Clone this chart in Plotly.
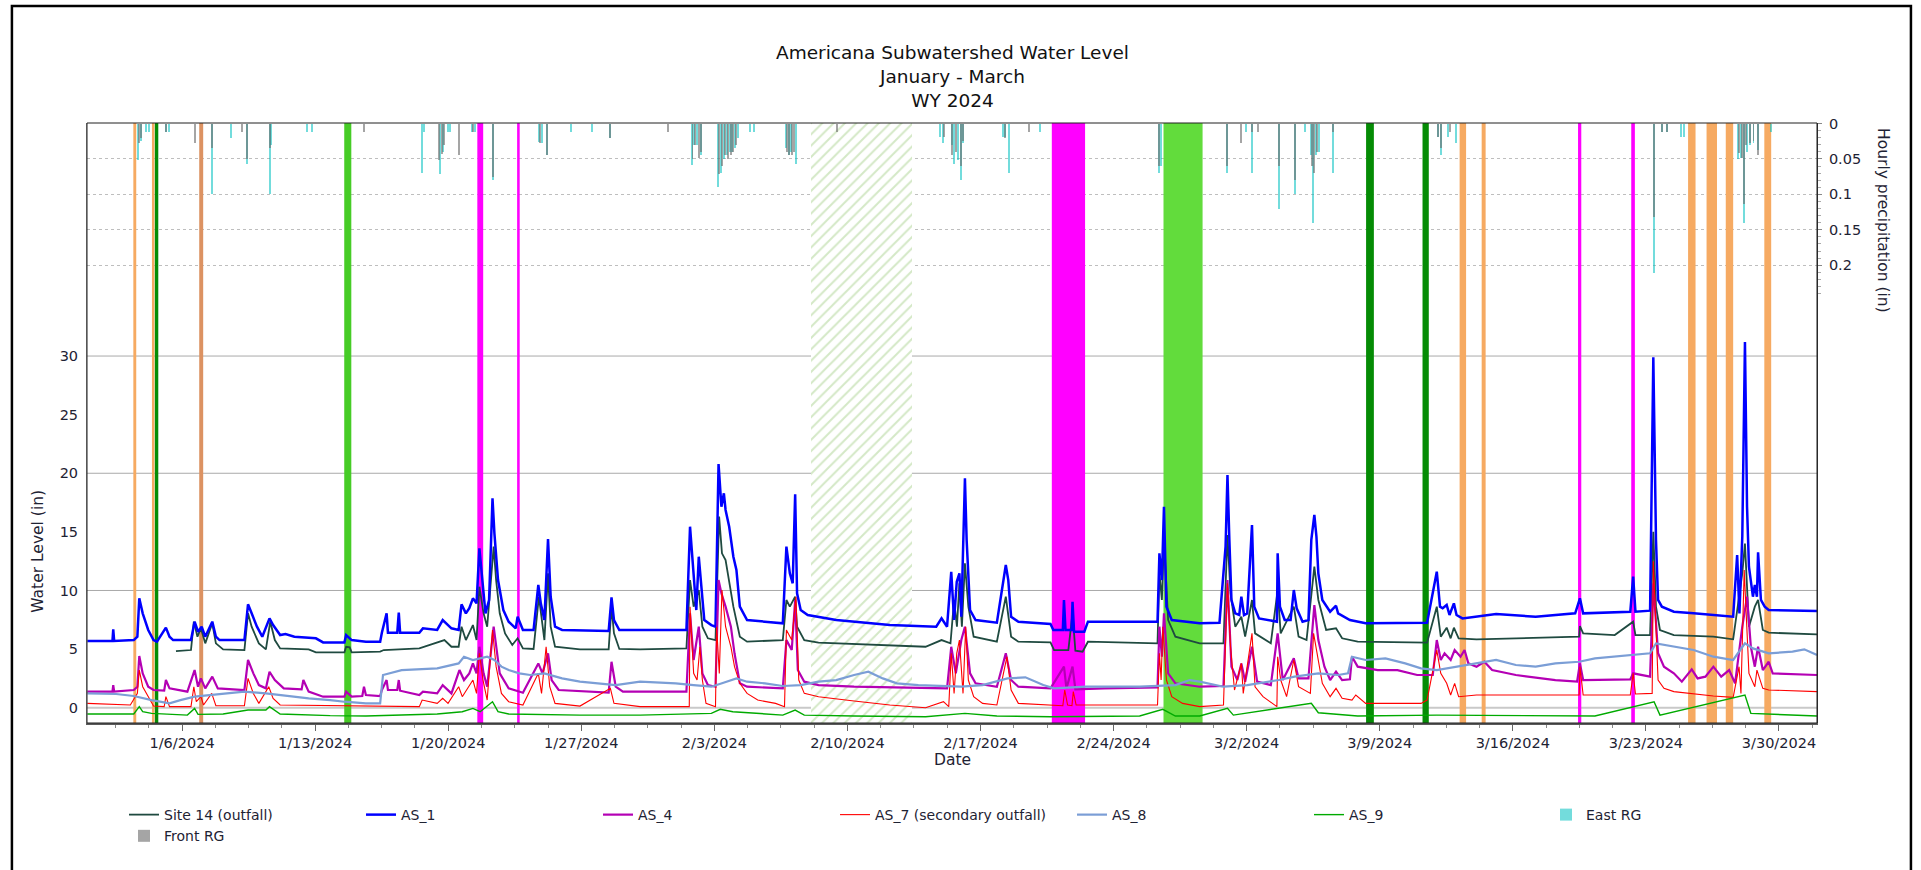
import pandas as pd
import plotly.graph_objects as go

BASE = pd.Timestamp("2024-01-01")

# ---------------- water level series (day offset since 2024-01-01, inches) ----------------
site14_day = [4.68, 5.47, 5.62, 5.81, 5.99, 6.22, 6.59, 6.78, 7.16, 8.28, 8.47, 8.66, 9.04, 9.41, 9.64, 9.88, 10.16, 11.66, 12.04, 13.54, 13.63, 13.82, 13.92, 15.42, 15.61, 17.48, 18.80, 19.17, 19.55, 19.70, 19.93, 20.30, 20.49, 20.64, 20.86, 21.05, 21.39, 21.52, 21.71, 21.99, 22.37, 22.65, 22.93, 23.49, 23.77, 23.96, 24.06, 24.25, 24.39, 24.62, 25.93, 27.44, 27.59, 27.72, 28.00,
              29.09, 31.53, 31.72, 31.91, 32.18, 32.37, 32.66, 33.06, 33.25, 33.40, 33.59, 33.78, 34.00, 34.34, 34.72, 36.60, 36.79, 36.97, 37.25, 37.35, 37.73, 38.48, 40.35, 42.23, 44.11, 44.95, 45.42, 45.61, 45.76, 45.89, 46.02, 46.18, 46.36, 46.64, 47.86, 48.33, 48.61, 48.99, 50.68, 50.87, 51.62, 51.84, 51.99, 52.37, 52.65, 56.31, 56.41, 56.54, 56.65, 56.87, 57.25, 58.53,
              59.78, 59.99, 60.15, 60.40, 60.72, 60.92, 61.28, 61.44, 62.27, 62.63, 62.79, 63.48, 63.73, 64.15, 64.46, 64.56, 64.77, 65.18, 65.70, 66.02, 66.84, 70.49, 71.00, 71.21, 71.52, 71.73, 71.90, 72.15, 73.09, 77.24, 78.49, 78.53, 78.70, 80.36, 81.33, 81.45, 82.22, 82.39, 82.53, 82.74, 83.47, 85.55, 86.59, 87.07, 87.21, 87.42, 87.73, 87.90, 88.15, 88.46, 91.00]
site14_val = [4.83, 4.92, 7.34, 6.06, 6.77, 5.49, 7.20, 5.49, 4.98, 4.92, 8.05, 6.91, 5.49, 4.98, 7.34, 5.77, 5.06, 4.98, 4.72, 4.72, 5.20, 5.15, 4.72, 4.78, 4.92, 5.06, 5.77, 5.20, 5.20, 6.91, 5.77, 7.05, 5.77, 10.32, 8.05, 6.91, 13.74, 10.89, 8.05, 6.34, 5.35, 5.92, 5.06, 5.01, 9.47, 6.91, 5.77, 11.46, 6.91, 5.20, 4.98, 4.98, 8.62, 6.34, 5.01,
              4.98, 5.06, 10.89, 8.62, 10.04, 6.91, 5.92, 5.77, 16.30, 13.17, 12.60, 10.89, 8.62, 6.06, 5.63, 5.77, 9.19, 8.62, 9.47, 6.91, 5.77, 5.55, 5.43, 5.29, 5.20, 5.77, 5.49, 9.19, 6.91, 10.61, 6.91, 12.32, 8.62, 6.06, 5.63, 9.47, 6.06, 5.63, 5.57, 4.92, 4.92, 8.05, 4.86, 4.78, 5.63, 5.49, 11.46, 9.19, 14.31, 7.48, 6.06, 5.49,
              5.49, 14.73, 9.76, 6.91, 7.76, 6.06, 9.19, 6.34, 5.49, 10.04, 6.34, 8.62, 6.06, 5.77, 10.32, 12.03, 9.19, 6.63, 6.77, 5.92, 5.63, 5.55, 8.62, 6.06, 6.83, 5.92, 6.83, 5.92, 5.83, 6.00, 6.06, 6.97, 6.34, 6.20, 7.34, 6.20, 6.20, 15.0, 8.62, 6.63, 6.20, 6.06, 5.83, 11.46, 14.0, 6.91, 8.62, 9.19, 6.63, 6.40, 6.26]

as1_day = [0.02, 1.34, 1.38, 1.43, 2.46, 2.65, 2.75, 2.93, 3.22, 3.50, 3.68, 4.15, 4.34, 4.53, 5.47, 5.66, 5.84, 6.03, 6.22, 6.59, 6.78, 6.97, 8.28, 8.47, 8.66, 8.94, 9.22, 9.60, 9.79, 10.16, 10.44, 10.91, 12.04, 12.42, 13.54, 13.63, 13.92, 14.67, 15.42, 15.51, 15.76, 15.83, 16.32, 16.40, 16.47, 17.48, 17.67, 18.42, 18.71, 19.17, 19.55, 19.70, 19.93, 20.11, 20.30, 20.49, 20.64, 20.77, 20.96, 21.15, 21.33, 21.43, 21.62, 21.90, 22.18, 22.55, 22.65, 22.93, 23.49, 23.74, 23.87, 24.06, 24.25, 24.39, 24.62, 24.99, 27.44, 27.59, 27.72, 28.00,
           29.09, 31.53, 31.72, 31.91, 32.05, 32.18, 32.32, 32.47, 32.84, 33.06, 33.22, 33.37, 33.50, 33.59, 33.78, 34.00, 34.16, 34.34, 34.72, 36.60, 36.79, 36.97, 37.12, 37.25, 37.35, 37.54, 37.91, 39.41, 42.23, 44.67, 44.95, 45.24, 45.46, 45.61, 45.75, 45.89, 45.99, 46.18, 46.27, 46.45, 46.74, 47.86, 48.33, 48.46, 48.61, 48.99, 50.68, 50.83, 51.33, 51.39, 51.47, 51.79, 51.84, 51.92, 52.46, 52.65, 56.31, 56.41, 56.54, 56.65, 56.78, 57.06, 58.53,
           59.57, 59.89, 59.99, 60.09, 60.20, 60.40, 60.61, 60.72, 60.86, 61.03, 61.28, 61.40, 61.65, 62.59, 62.63, 62.75, 63.00, 63.31, 63.48, 63.63, 63.94, 64.25, 64.40, 64.56, 64.67, 64.77, 64.98, 65.39, 65.70, 65.81, 66.43, 67.26, 70.49, 71.00, 71.17, 71.31, 71.52, 71.67, 71.90, 72.04, 72.35, 74.12, 76.20, 78.28, 78.53, 78.70, 81.18, 81.33, 81.45, 82.22, 82.39, 82.53, 82.64, 82.84, 83.47, 84.51, 86.59, 86.80, 86.92, 87.07, 87.21, 87.32, 87.42, 87.63, 87.73, 87.84, 87.90, 88.05, 88.25, 88.46, 91.00]
as1_val = [5.69, 5.69, 6.68, 5.69, 5.77, 6.06, 9.33, 8.05, 6.63, 5.77, 5.63, 6.83, 6.06, 5.77, 5.77, 7.34, 6.48, 6.91, 6.06, 7.34, 6.06, 5.77, 5.77, 8.82, 8.05, 6.91, 6.06, 7.62, 7.05, 6.20, 6.29, 6.06, 5.92, 5.57, 5.57, 6.20, 5.77, 5.63, 5.63, 6.40, 8.05, 6.40, 6.40, 8.11, 6.40, 6.40, 6.77, 6.63, 7.48, 6.77, 6.63, 8.82, 8.05, 8.48, 9.33, 8.90, 13.60, 11.18, 8.05, 9.19, 17.86, 14.87, 10.89, 8.33, 7.34, 6.77, 7.76, 6.63, 6.63, 10.47, 8.90, 7.48, 14.39, 9.47, 6.91, 6.63, 6.54, 9.41, 7.48, 6.63,
           6.63, 6.63, 15.44, 11.46, 8.33, 12.88, 10.04, 7.48, 7.05, 6.91, 20.79, 17.15, 18.29, 16.87, 15.44, 12.88, 11.75, 8.62, 7.48, 7.20, 13.74, 11.46, 10.61, 18.20, 9.76, 8.33, 7.91, 7.48, 7.05, 6.91, 7.62, 6.91, 11.60, 7.48, 10.75, 11.46, 7.76, 19.57, 14.31, 8.33, 7.48, 7.25, 12.17, 10.89, 7.76, 7.34, 7.14, 6.63, 6.63, 9.19, 6.63, 6.63, 9.04, 6.48, 6.48, 7.34, 7.34, 13.17, 10.89, 17.15, 8.62, 7.48, 7.20,
           7.25, 13.74, 19.85, 14.31, 9.19, 8.05, 7.91, 9.47, 7.91, 8.05, 15.59, 8.62, 7.62, 7.34, 13.17, 8.62, 7.48, 7.48, 10.04, 8.48, 7.34, 7.48, 14.31, 16.44, 14.59, 11.46, 9.19, 8.19, 8.70, 8.05, 7.48, 7.20, 7.25, 11.60, 8.62, 8.48, 8.76, 7.91, 8.90, 7.91, 7.62, 7.99, 7.76, 8.05, 9.33, 8.05, 8.19, 11.18, 8.19, 8.28, 29.9, 14.31, 9.19, 8.62, 8.19, 8.05, 7.76, 13.03, 8.05, 14.59, 31.2, 17.15, 12.03, 9.47, 10.47, 9.47, 13.25, 9.19, 8.62, 8.33, 8.25]

as4_day = [0.02, 1.34, 1.38, 1.43, 2.46, 2.65, 2.75, 2.93, 3.22, 3.50, 4.06, 4.15, 4.34, 5.28, 5.66, 5.84, 5.99, 6.22, 6.59, 6.88, 8.28, 8.47, 8.75, 9.04, 9.41, 9.60, 9.88, 10.35, 11.29, 11.38, 11.66, 12.42, 13.54, 13.63, 13.92, 14.48, 14.57, 14.67, 15.42, 15.51, 15.76, 15.83, 16.32, 16.40, 16.47, 17.48, 17.67, 18.42, 18.71, 19.17, 19.59, 19.83, 20.11, 20.30, 20.49, 20.64, 20.86, 21.05, 21.39, 21.52, 21.71, 22.18, 22.93, 23.74, 23.96, 24.25, 24.44, 24.81, 27.44, 27.59, 27.81, 28.19,
           29.09, 31.53, 31.72, 31.91, 32.18, 32.37, 32.66, 33.06, 33.22, 33.37, 33.59, 33.87, 34.06, 34.34, 34.72, 36.60, 36.79, 37.07, 37.25, 37.39, 37.73, 38.48, 40.35, 45.24, 45.46, 45.70, 45.99, 46.18, 46.45, 46.74, 47.86, 48.33, 48.61, 48.99, 50.68, 51.39, 51.52, 51.84, 51.99, 53.50, 56.31, 56.41, 56.54, 56.65, 56.87, 57.25, 58.53,
           59.78, 59.99, 60.20, 60.51, 60.72, 60.92, 61.28, 61.55, 62.27, 62.63, 62.90, 63.48, 63.73, 64.25, 64.56, 64.77, 65.09, 65.39, 65.70, 66.02, 66.43, 66.54, 66.84, 67.89, 68.93, 69.97, 70.79, 71.00, 71.21, 71.41, 71.73, 71.94, 72.25, 72.46, 72.66, 73.09, 73.50, 73.91, 75.16, 77.24, 78.38, 78.53, 78.70, 81.18, 81.33, 82.22, 82.39, 82.64, 82.95, 83.47, 83.89, 84.41, 84.72, 85.13, 85.55, 85.96, 86.38, 86.69, 87.07, 87.32, 87.52, 87.73, 87.90, 88.15, 88.46, 88.67, 91.00]
as4_val = [1.37, 1.37, 1.93, 1.37, 1.51, 1.79, 4.41, 2.93, 1.79, 1.51, 1.45, 2.36, 1.65, 1.37, 3.21, 1.79, 2.50, 1.65, 2.65, 1.65, 1.51, 4.07, 2.93, 1.93, 1.65, 3.07, 2.36, 1.65, 1.56, 2.36, 1.37, 0.94, 0.94, 1.37, 0.94, 1.00, 1.79, 1.08, 1.00, 1.51, 2.36, 1.51, 1.51, 2.36, 1.45, 1.08, 1.37, 1.22, 1.93, 1.22, 3.21, 2.36, 2.93, 3.78, 2.93, 5.20, 2.93, 1.79, 6.91, 5.20, 2.93, 1.65, 1.28, 3.78, 2.93, 4.64, 2.36, 1.51, 1.28, 3.92, 1.79, 1.37,
           1.37, 1.37, 8.05, 4.07, 6.91, 2.93, 1.93, 1.79, 10.89, 9.76, 8.62, 6.91, 4.64, 2.08, 1.79, 1.65, 5.77, 4.92, 9.19, 3.21, 2.22, 1.93, 1.79, 1.65, 5.20, 2.93, 5.77, 6.91, 2.93, 2.08, 1.79, 4.64, 2.36, 1.79, 1.65, 3.50, 1.65, 3.50, 1.56, 1.65, 1.73, 6.91, 4.35, 8.05, 2.93, 2.08, 1.79,
           1.85, 10.89, 3.50, 2.36, 3.78, 2.22, 5.20, 2.22, 1.93, 6.34, 2.36, 4.21, 2.50, 2.50, 8.76, 5.77, 3.50, 2.36, 3.07, 2.36, 2.42, 4.35, 3.50, 3.21, 3.21, 2.79, 2.79, 5.77, 4.07, 4.64, 4.07, 4.92, 4.35, 4.92, 3.78, 3.50, 3.92, 3.21, 2.79, 2.36, 2.22, 3.78, 2.36, 2.42, 2.93, 2.65, 10.61, 4.64, 3.50, 2.93, 2.22, 3.27, 2.50, 2.65, 3.50, 2.65, 3.21, 2.08, 6.91, 9.47, 5.20, 3.50, 5.20, 3.21, 3.92, 2.93, 2.79]

as7_day = [0.02, 2.28, 2.65, 2.75, 2.93, 3.22, 3.50, 4.06, 4.15, 4.34, 5.47, 5.62, 5.75, 5.99, 6.13, 6.56, 6.78, 8.28, 8.47, 8.75, 9.04, 9.56, 9.79, 10.16, 17.48, 17.63, 18.42, 18.71, 18.99, 19.55, 19.74, 20.30, 20.49, 20.64, 20.83, 21.05, 21.33, 21.52, 21.80, 22.18, 22.93, 23.74, 23.91, 24.15, 24.34, 24.62, 25.93, 27.53, 27.72, 29.09,
           31.68, 31.72, 31.91, 32.09, 32.24, 32.37, 32.56, 33.06, 33.12, 33.26, 33.40, 33.59, 33.87, 34.06, 34.34, 34.72, 35.28, 36.22, 36.69, 36.79, 37.07, 37.29, 37.44, 37.73, 38.48, 40.35, 42.23, 44.11, 45.05, 45.33, 45.46, 45.61, 45.75, 45.89, 46.08, 46.22, 46.36, 46.64, 47.11, 47.86, 48.39, 48.61, 48.99, 51.33, 51.43, 51.58, 51.81, 51.88, 52.03, 56.31, 56.41, 56.50, 56.59, 56.78, 57.06, 57.63, 58.53,
           59.78, 59.99, 60.15, 60.36, 60.72, 60.82, 61.28, 61.44, 61.86, 62.59, 62.63, 62.79, 63.10, 63.48, 63.73, 64.35, 64.52, 64.73, 64.98, 65.39, 65.70, 66.02, 66.54, 66.74, 67.26, 70.17, 70.49, 71.00, 71.21, 71.52, 71.73, 71.94, 72.15, 73.09, 78.49, 78.53, 78.70, 81.18, 81.33, 81.45, 82.33, 82.39, 82.64, 82.95, 83.47, 85.55, 86.59, 86.90, 87.00, 87.17, 87.42, 87.73, 87.84, 88.15, 88.46, 91.00]
as7_val = [0.37, 0.23, 1.22, 3.21, 1.79, 0.94, 0.14, 0.09, 0.94, 0.09, 0.09, 1.79, 0.51, 0.94, 0.23, 1.22, 0.17, 0.17, 2.50, 1.22, 0.37, 1.79, 0.80, 0.23, 0.09, 0.65, 0.37, 0.80, 0.37, 1.79, 0.94, 2.36, 1.22, 4.64, 2.36, 0.65, 6.63, 3.50, 1.22, 0.51, 0.23, 2.93, 1.22, 5.20, 1.79, 0.37, 0.14, 1.65, 0.37, 0.09,
           0.09, 8.62, 2.93, 2.36, 5.20, 2.36, 0.37, 0.09, 6.91, 2.93, 10.04, 6.91, 5.20, 3.50, 2.08, 1.22, 0.65, 0.37, 0.09, 6.63, 5.77, 9.47, 2.36, 1.22, 0.94, 0.57, 0.23, 0.00, 0.51, 0.09, 4.64, 1.22, 4.64, 5.77, 1.22, 6.91, 2.36, 0.94, 0.37, 0.23, 4.35, 1.51, 0.37, 0.17, 1.51, 0.23, 0.17, 1.37, 0.23, 0.23, 4.64, 2.36, 6.91, 2.36, 0.94, 0.37, 0.09,
           0.23, 10.61, 5.20, 1.51, 3.78, 1.22, 6.34, 1.79, 0.94, 0.09, 4.35, 2.36, 0.94, 4.07, 1.79, 1.22, 6.34, 4.35, 2.08, 0.94, 1.65, 0.80, 0.65, 1.08, 0.37, 0.37, 0.65, 4.92, 2.93, 2.08, 1.08, 2.08, 0.94, 1.08, 1.08, 3.50, 1.08, 1.08, 2.93, 1.17, 1.22, 12.5, 2.36, 1.65, 1.37, 1.00, 0.88, 3.50, 1.22, 11.75, 2.93, 1.79, 3.21, 1.65, 1.51, 1.37]

as8_day = [0.02, 1.53, 2.46, 3.40, 4.34, 4.91, 5.66, 7.16, 8.28, 9.41, 10.54, 11.66, 12.79, 13.54, 14.67, 15.42, 15.57, 16.55, 18.42, 19.55, 19.83, 20.30, 21.05, 21.43, 21.80, 22.18, 22.74, 23.31, 24.06, 24.99, 25.93, 26.87, 27.81, 29.09,
           30.97, 31.91, 32.84, 33.40, 34.16, 34.72, 35.66, 36.60, 37.54, 38.48, 39.41, 40.35, 41.10, 41.86, 42.60, 43.73, 45.99, 47.11, 47.86, 48.42, 49.36, 50.30, 50.87, 52.56, 55.37, 57.25, 58.00, 58.53,
           59.78, 61.03, 62.69, 63.52, 64.77, 65.81, 66.33, 66.54, 67.26, 68.30, 69.34, 70.17, 71.00, 72.04, 73.09, 74.12, 75.16, 76.20, 77.24, 78.49, 79.32, 80.36, 81.39, 82.22, 82.53, 83.47, 84.51, 85.55, 86.59, 87.21, 87.63, 88.46, 89.71, 90.33, 91.00]
as8_val = [1.22, 1.17, 1.00, 0.65, 0.37, 0.65, 0.94, 1.17, 1.37, 1.22, 1.00, 0.80, 0.65, 0.51, 0.37, 0.37, 2.79, 3.21, 3.36, 3.78, 4.35, 4.07, 4.35, 4.07, 3.50, 3.21, 2.93, 2.79, 2.93, 2.50, 2.22, 2.08, 1.93, 2.22,
           2.08, 1.93, 1.79, 2.08, 2.50, 2.22, 2.08, 1.85, 1.93, 2.22, 2.36, 2.79, 3.07, 2.50, 2.08, 1.93, 1.79, 1.93, 2.22, 2.50, 2.59, 1.93, 1.65, 1.79, 1.79, 1.93, 2.36, 2.22,
           1.79, 1.93, 2.36, 2.65, 2.93, 2.79, 2.93, 4.35, 4.07, 4.21, 3.78, 3.36, 3.21, 3.50, 3.78, 4.07, 3.64, 3.50, 3.78, 3.92, 4.21, 4.35, 4.49, 4.64, 5.49, 5.20, 4.92, 4.35, 4.07, 5.49, 5.06, 4.64, 4.78, 4.98, 4.49]

as9_day = [0.02, 2.46, 2.75, 2.93, 3.40, 5.28, 5.66, 5.84, 7.16, 8.47, 9.41, 9.60, 10.16, 12.79, 14.67, 16.55, 18.42, 19.74, 20.30, 20.68, 21.33, 21.62, 22.18, 25.93, 29.09,
           32.84, 33.31, 33.97, 36.60, 37.25, 37.73, 40.35, 44.11, 46.18, 47.86, 50.68, 55.37, 56.59, 57.25,
           58.53, 59.99, 60.30, 64.40, 64.77, 66.84, 71.00, 79.32, 82.43, 82.74, 87.21, 87.52, 91.00]
as9_val = [-0.54, -0.54, 0.09, -0.34, -0.48, -0.63, -0.06, -0.57, -0.54, -0.20, -0.20, 0.09, -0.54, -0.68, -0.71, -0.63, -0.54, -0.34, -0.06, -0.34, 0.51, -0.34, -0.54, -0.63, -0.63,
           -0.48, -0.14, -0.34, -0.63, -0.20, -0.63, -0.71, -0.77, -0.48, -0.71, -0.77, -0.71, -0.14, -0.71,
           -0.71, -0.06, -0.63, 0.37, -0.43, -0.71, -0.63, -0.71, 0.51, -0.63, 1.08, -0.48, -0.71]

# ---------------- hourly precipitation (day offset, inches) ----------------
east_day = [2.70, 2.85, 3.10, 3.25, 4.15, 4.30, 6.55, 7.60, 8.40, 9.60, 9.70, 11.58, 11.84, 17.64, 17.75, 18.55, 18.70, 19.00, 19.10, 20.25, 20.40, 21.34, 23.80, 23.95, 24.20, 25.46, 26.57, 27.51, 31.80, 31.95, 32.10, 32.30, 33.19, 33.35, 33.50, 33.65, 33.80, 33.95, 34.10, 34.24, 34.85, 35.08, 36.75, 36.90, 37.05, 37.29, 44.85, 45.05, 45.50, 45.60, 45.80, 45.95, 46.10, 48.20, 48.30, 48.49, 50.15, 56.40, 56.50, 59.95, 60.95, 61.29, 62.69, 63.53, 64.09, 64.40, 64.50, 64.65, 64.80, 65.53, 71.05, 71.20, 71.57, 71.99, 82.45, 82.85, 83.09, 83.83, 84.00, 86.82, 87.00, 87.15, 87.30, 87.45, 87.66, 87.92, 88.60]
east_val = [0.051, 0.025, 0.012, 0.012, 0.012, 0.012, 0.099, 0.021, 0.057, 0.099, 0.030, 0.012, 0.012, 0.070, 0.012, 0.071, 0.040, 0.012, 0.012, 0.012, 0.012, 0.080, 0.026, 0.028, 0.044, 0.012, 0.012, 0.021, 0.058, 0.030, 0.030, 0.045, 0.090, 0.070, 0.050, 0.045, 0.040, 0.040, 0.035, 0.020, 0.012, 0.012, 0.035, 0.045, 0.040, 0.057, 0.019, 0.028, 0.030, 0.057, 0.052, 0.080, 0.028, 0.019, 0.019, 0.070, 0.012, 0.070, 0.060, 0.070, 0.012, 0.070, 0.120, 0.099, 0.012, 0.045, 0.140, 0.045, 0.040, 0.070, 0.019, 0.044, 0.019, 0.028, 0.211, 0.012, 0.012, 0.019, 0.019, 0.050, 0.049, 0.140, 0.040, 0.030, 0.028, 0.037, 0.012]
front_day = [2.75, 2.85, 4.15, 5.69, 6.60, 8.17, 8.41, 9.65, 14.58, 18.50, 18.65, 18.80, 19.57, 20.30, 21.34, 23.85, 24.20, 27.51, 30.56, 31.85, 32.00, 32.20, 32.30, 33.25, 33.40, 33.56, 33.70, 33.85, 34.00, 34.15, 36.80, 36.95, 37.10, 37.20, 39.47, 45.10, 45.50, 45.70, 45.95, 46.10, 48.30, 49.57, 56.40, 59.95, 60.69, 61.29, 61.60, 62.69, 63.53, 64.45, 64.55, 64.70, 65.53, 71.05, 71.20, 71.70, 82.40, 82.85, 83.09, 86.90, 87.05, 87.14, 87.25, 87.45, 87.66, 87.92]
front_val = [0.028, 0.021, 0.012, 0.028, 0.035, 0.012, 0.050, 0.035, 0.012, 0.052, 0.043, 0.030, 0.044, 0.012, 0.075, 0.028, 0.044, 0.021, 0.012, 0.050, 0.030, 0.049, 0.040, 0.071, 0.060, 0.045, 0.050, 0.045, 0.040, 0.030, 0.040, 0.045, 0.045, 0.040, 0.012, 0.019, 0.045, 0.040, 0.060, 0.025, 0.020, 0.012, 0.060, 0.060, 0.028, 0.012, 0.012, 0.060, 0.080, 0.060, 0.070, 0.040, 0.012, 0.019, 0.035, 0.012, 0.132, 0.012, 0.012, 0.042, 0.049, 0.113, 0.030, 0.028, 0.025, 0.044]

# ---------------- highlighted periods ----------------
band_start = ["2024-01-03 10:30", "2024-01-04 10:00", "2024-01-04 13:40", "2024-01-06 21:40", "2024-01-14 12:45",
              "2024-01-21 12:45", "2024-01-23 15:00", "2024-02-20 18:00", "2024-02-26 15:00", "2024-03-08 06:45",
              "2024-03-11 06:00", "2024-03-13 04:50", "2024-03-14 08:40", "2024-03-19 10:20", "2024-03-22 05:30",
              "2024-03-25 05:15", "2024-03-26 04:35", "2024-03-27 04:50", "2024-03-29 05:30"]
band_end = ["2024-01-03 14:10", "2024-01-04 13:10", "2024-01-04 18:00", "2024-01-07 02:40", "2024-01-14 21:40",
            "2024-01-21 20:10", "2024-01-23 18:15", "2024-02-22 12:00", "2024-02-28 16:20", "2024-03-08 16:35",
            "2024-03-11 13:55", "2024-03-13 13:00", "2024-03-14 13:40", "2024-03-19 14:25", "2024-03-22 10:05",
            "2024-03-25 14:40", "2024-03-26 17:45", "2024-03-27 14:10", "2024-03-29 14:10"]
band_kind = ["orange", "orange", "dkgreen", "brown", "green", "magenta", "magenta", "magenta", "ltgreen", "dkgreen",
             "dkgreen", "orange", "orange", "magenta", "magenta", "orange", "orange", "orange", "orange"]
hatch_start = "2024-02-08 01:40"
hatch_end = "2024-02-13 10:05"

tick_dates = ["2024-01-06", "2024-01-13", "2024-01-20", "2024-01-27", "2024-02-03", "2024-02-10", "2024-02-17",
              "2024-02-24", "2024-03-02", "2024-03-09", "2024-03-16", "2024-03-23", "2024-03-30"]
tick_labels = ["1/6/2024", "1/13/2024", "1/20/2024", "1/27/2024", "2/3/2024", "2/10/2024", "2/17/2024",
               "2/24/2024", "3/2/2024", "3/9/2024", "3/16/2024", "3/23/2024", "3/30/2024"]
wl_ticks = [0, 5, 10, 15, 20, 25, 30]
wl_grid = [10, 20, 30]
pr_ticks = [0, 0.05, 0.1, 0.15, 0.2]
pr_labels = ["0", "0.05", "0.1", "0.15", "0.2"]

# ---------------- styling ----------------
FONT = "DejaVu Sans"
TXT = "#1e2233"
BAND_COLORS = {"orange": "#F6AA62", "dkgreen": "#058C05", "brown": "#DC9262", "green": "#46CC26",
               "ltgreen": "#62DC3C", "magenta": "#FF00FF"}
WL_RANGE = [-1.305, 49.88]
PR_RANGE = [0.8466, -0.0008]


def to_dt(days):
    return BASE + pd.to_timedelta(days, unit="D")


fig = go.Figure()

# hatched period (drawn below the lines)
hs, he = pd.Timestamp(hatch_start), pd.Timestamp(hatch_end)
fig.add_trace(go.Bar(
    x=[hs + (he - hs) / 2], y=[WL_RANGE[1] - WL_RANGE[0]], base=[WL_RANGE[0]],
    width=[(he - hs).total_seconds() * 1000], yaxis="y",
    marker=dict(color="white", line=dict(width=0),
                pattern=dict(shape="/", fgcolor="#A9D18E", size=8, solidity=0.25)),
    showlegend=False, hoverinfo="skip"))

series = [
    ("Site 14 (outfall)", site14_day, site14_val, "#1F4A40", 1.8),
    ("AS_1", as1_day, as1_val, "#0000FF", 2.5),
    ("AS_4", as4_day, as4_val, "#B400B4", 2.2),
    ("AS_7 (secondary outfall)", as7_day, as7_val, "#FF0000", 1.1),
    ("AS_8", as8_day, as8_val, "#7B9ED6", 2.2),
    ("AS_9", as9_day, as9_val, "#00AA00", 1.4),
]
for name, d, v, col, w in series:
    fig.add_trace(go.Scatter(x=to_dt(d), y=v, name=name, mode="lines",
                             line=dict(color=col, width=w), yaxis="y"))

BAR_W = 2.5 * 3600 * 1000
fig.add_trace(go.Bar(x=to_dt(east_day), y=east_val, name="East RG", yaxis="y2", width=BAR_W,
                     marker=dict(color="rgba(0,192,192,0.55)", line=dict(width=0))))
fig.add_trace(go.Bar(x=to_dt(front_day), y=front_val, name="Front RG", yaxis="y2", width=BAR_W,
                     marker=dict(color="rgba(105,105,105,0.6)", line=dict(width=0))))

shapes = []
for s, e, k in zip(band_start, band_end, band_kind):
    shapes.append(dict(type="rect", xref="x", yref="y", x0=s, x1=e, y0=WL_RANGE[0], y1=WL_RANGE[1],
                       fillcolor=BAND_COLORS[k], line=dict(width=0), layer="between"))
for g in wl_grid:
    shapes.append(dict(type="line", xref="paper", yref="y", x0=0, x1=1, y0=g, y1=g,
                       line=dict(color="#A9A9A9", width=1), layer="below"))
shapes.append(dict(type="line", xref="paper", yref="y", x0=0, x1=1, y0=0, y1=0,
                   line=dict(color="#C9C9C9", width=2), layer="below"))
# plot frame
shapes.append(dict(type="rect", xref="paper", yref="paper", x0=0, x1=1, y0=0, y1=1,
                   line=dict(color="#202020", width=1), layer="above"))
# outer border of the chart image
shapes.append(dict(type="rect", xref="paper", yref="paper", x0=-0.0434, x1=1.0543, y0=-0.30, y1=1.195,
                   line=dict(color="black", width=2.5), layer="above"))

annotations = [
    dict(text="Americana Subwatershed Water Level<br>January - March<br>WY 2024", xref="paper", yref="paper",
         x=0.5, y=1.0767, xanchor="center", yanchor="middle", showarrow=False,
         font=dict(family=FONT, size=18.5, color="#111111")),
    dict(text="Date", xref="paper", yref="paper", x=0.5, y=-0.0617, xanchor="center", yanchor="middle",
         showarrow=False, font=dict(family=FONT, size=15.5, color=TXT)),
    dict(text="Water Level (in)", xref="paper", yref="paper", x=-0.0283, y=0.2855, textangle=-90,
         xanchor="center", yanchor="middle", showarrow=False, font=dict(family=FONT, size=15.5, color=TXT)),
    dict(text="Hourly precipitation (in)", xref="paper", yref="paper", x=1.0382, y=0.838, textangle=90,
         xanchor="center", yanchor="middle", showarrow=False, font=dict(family=FONT, size=15.5, color=TXT)),
]

minor_pr = [round(i * 0.01, 2) for i in range(1, 25) if i % 5 != 0]

fig.update_layout(
    width=1921, height=870,
    margin=dict(l=87, r=104, t=123, b=147),
    paper_bgcolor="white", plot_bgcolor="white",
    font=dict(family=FONT, size=14, color=TXT),
    barmode="overlay", bargap=0,
    showlegend=True,
    legend=dict(orientation="h", x=0.0214, xanchor="left", y=-0.1267, yanchor="top",
                entrywidth=192, entrywidthmode="pixels", font=dict(family=FONT, size=14, color=TXT),
                bgcolor="rgba(0,0,0,0)", traceorder="normal"),
    xaxis=dict(type="date", range=["2024-01-01", "2024-04-01"], tickmode="array",
               tickvals=tick_dates, ticktext=tick_labels, ticks="outside", ticklen=6, tickcolor="#666666",
               tickfont=dict(family=FONT, size=14.5, color=TXT), showgrid=False, zeroline=False,
               showline=True, linecolor="#5A5A5A", linewidth=2,
               minor=dict(tick0="2024-01-06", dtick=1.75 * 86400000, ticks="outside", ticklen=3,
                          tickcolor="#888888", showgrid=False)),
    yaxis=dict(range=WL_RANGE, tickmode="array", tickvals=wl_ticks, showgrid=False, zeroline=False,
               showline=True, linecolor="#8A8A8A", linewidth=1, ticks="", ticklabelstandoff=5,
               tickfont=dict(family=FONT, size=14.5, color=TXT)),
    yaxis2=dict(overlaying="y", side="right", range=PR_RANGE, tickmode="array", tickvals=pr_ticks,
                ticktext=pr_labels, showgrid=True, gridcolor="#BEBEBE", griddash="dot", gridwidth=1,
                zeroline=False, showline=True, linecolor="#333333", ticks="outside", ticklen=4,
                tickcolor="#888888", ticklabelstandoff=4,
                tickfont=dict(family=FONT, size=14.5, color=TXT),
                minor=dict(tickmode="array", tickvals=minor_pr, ticks="outside", ticklen=3,
                           tickcolor="#AAAAAA", showgrid=False)),
    shapes=shapes, annotations=annotations,
)

fig.write_html("out.html", include_plotlyjs=True, config={"displayModeBar": False},
               post_script="document.body.style.margin='0';document.body.style.overflow='hidden';")
